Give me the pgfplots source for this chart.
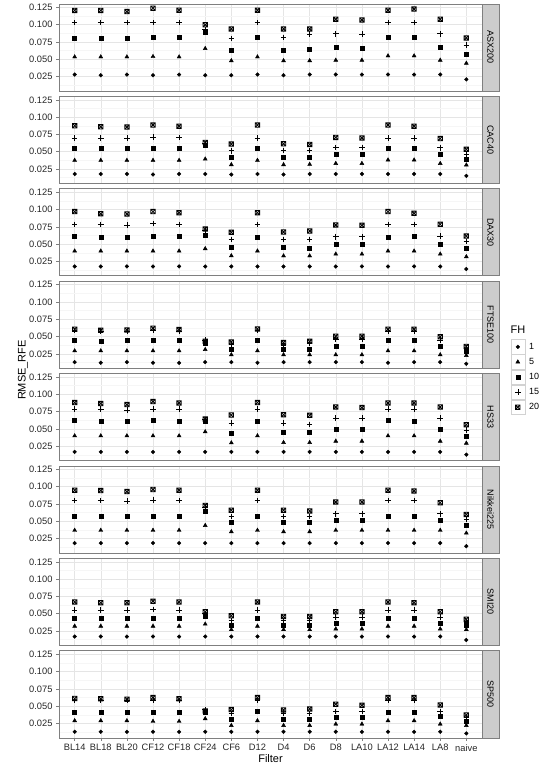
\documentclass[border=0pt]{standalone}
\usepackage{fontspec}
\setmainfont{Liberation Sans}
\usepackage{pgfplots}
\usepackage{pgfplotstable}
\pgfplotsset{compat=1.18}

\definecolor{panelborder}{RGB}{127,127,127}
\definecolor{gridmaj}{RGB}{229,229,229}
\definecolor{gridmin}{RGB}{246,246,246}
\definecolor{stripfill}{RGB}{204,204,204}
\definecolor{tickcol}{RGB}{38,38,38}
\definecolor{legbox}{RGB}{210,210,210}

% square with a cross, like R's pch 7
\pgfdeclareplotmark{boxx}{%
  \pgfpathrectangle{\pgfqpoint{-\pgfplotmarksize}{-\pgfplotmarksize}}{\pgfqpoint{2\pgfplotmarksize}{2\pgfplotmarksize}}%
  \pgfpathmoveto{\pgfqpoint{-\pgfplotmarksize}{-\pgfplotmarksize}}%
  \pgfpathlineto{\pgfqpoint{\pgfplotmarksize}{\pgfplotmarksize}}%
  \pgfpathmoveto{\pgfqpoint{-\pgfplotmarksize}{\pgfplotmarksize}}%
  \pgfpathlineto{\pgfqpoint{\pgfplotmarksize}{-\pgfplotmarksize}}%
  \pgfusepathqstroke}

% columns: filter index, FH = 1 5 10 15 20
\pgfplotstableread{
x f1 f5 f10 f15 f20
1 .028 .0535 .081 .103 .1207
2 .027 .0535 .081 .103 .1207
3 .028 .0535 .081 .103 .119
4 .027 .054 .0825 .103 .124
5 .028 .0535 .0825 .103 .121
6 .027 .0656 .089 .093 .100
7 .027 .048 .063 .080 .094
8 .028 .0535 .0825 .103 .121
9 .027 .048 .063 .0815 .094
10 .028 .048 .0646 .0865 .094
11 .028 .0487 .068 .087 .108
12 .028 .0487 .0665 .0865 .107
13 .028 .055 .0825 .103 .121
14 .028 .055 .0825 .103 .1226
15 .028 .0487 .068 .087 .108
16 .021 .0443 .0574 .0705 .081
}\asx
\pgfplotstableread{
x f1 f5 f10 f15 f20
1 .0178 .0375 .0553 .070 .0875
2 .0178 .0375 .0553 .070 .086
3 .0178 .0375 .0553 .070 .0856
4 .017 .0375 .0553 .071 .0885
5 .0178 .0375 .0553 .0705 .087
6 .0178 .0394 .059 .062 .0635
7 .017 .0313 .0428 .0514 .061
8 .0178 .0375 .0553 .070 .0885
9 .017 .0313 .0428 .052 .0615
10 .0178 .0317 .0428 .052 .0606
11 .0178 .033 .046 .0563 .0707
12 .0178 .033 .046 .0563 .070
13 .0178 .038 .0553 .070 .0885
14 .0178 .038 .0553 .070 .087
15 .0178 .033 .047 .0558 .069
16 .015 .0308 .0399 .046 .0534
}\cac
\pgfplotstableread{
x f1 f5 f10 f15 f20
1 .0177 .040 .062 .0786 .097
2 .0177 .040 .0607 .0786 .094
3 .0177 .040 .0607 .0777 .0936
4 .0177 .040 .062 .0796 .097
5 .0177 .040 .062 .0786 .0955
6 .0177 .0434 .0632 .0704 .072
7 .0177 .0332 .0458 .0564 .067
8 .0177 .040 .0607 .0786 .0955
9 .0177 .033 .0458 .0569 .0675
10 .0177 .033 .0448 .0569 .069
11 .0177 .0356 .0492 .0607 .0777
12 .0177 .0356 .0492 .0607 .0772
13 .0177 .040 .0607 .0786 .097
14 .0177 .040 .062 .0786 .0945
15 .0177 .0356 .0492 .0617 .0786
16 .014 .0318 .0434 .054 .0617
}\dax
\pgfplotstableread{
x f1 f5 f10 f15 f20
1 .013 .0293 .0442 .0587 .0606
2 .012 .0293 .0428 .058 .0591
3 .013 .0293 .0442 .058 .0596
4 .012 .0293 .0442 .059 .062
5 .012 .0293 .0442 .058 .0601
6 .013 .0312 .041 .045 .043
7 .013 .0236 .0312 .0394 .042
8 .012 .0293 .0442 .0587 .061
9 .013 .0236 .0312 .038 .0413
10 .013 .0236 .032 .040 .043
11 .013 .0236 .0356 .0466 .0505
12 .013 .0236 .0356 .0466 .0505
13 .012 .0293 .0442 .057 .0606
14 .013 .0293 .0442 .057 .0606
15 .013 .0236 .0356 .0447 .0495
16 .0106 .0226 .0293 .033 .0356
}\ftse
\pgfplotstableread{
x f1 f5 f10 f15 f20
1 .0168 .040 .0624 .0789 .0881
2 .0168 .040 .061 .0789 .0867
3 .0168 .040 .061 .0774 .0852
4 .0168 .040 .0624 .0789 .0896
5 .0168 .040 .061 .0789 .0876
6 .0168 .0459 .061 .0633 .0643
7 .0168 .0299 .0444 .0585 .0701
8 .0168 .040 .061 .0789 .0881
9 .0168 .0303 .0459 .0585 .0706
10 .0168 .0303 .0459 .0566 .0697
11 .0168 .0323 .0493 .0658 .0818
12 .0168 .0323 .0493 .0658 .0808
13 .0168 .040 .0624 .0789 .0876
14 .0168 .040 .061 .0789 .0876
15 .0168 .0323 .0493 .0658 .0818
16 .0128 .0294 .0391 .0483 .0561
}\hsi
\pgfplotstableread{
x f1 f5 f10 f15 f20
1 .0185 .037 .058 .080 .095
2 .0185 .037 .058 .080 .0945
3 .0185 .037 .058 .079 .093
4 .0185 .037 .058 .081 .096
5 .0185 .037 .058 .080 .095
6 .0185 .044 .064 .071 .073
7 .0185 .035 .049 .057 .066
8 .0185 .037 .058 .080 .095
9 .0185 .035 .049 .057 .066
10 .0185 .035 .049 .057 .065
11 .0185 .037 .052 .061 .078
12 .0185 .037 .052 .061 .078
13 .0185 .037 .058 .080 .095
14 .0185 .037 .058 .080 .094
15 .0185 .037 .052 .061 .077
16 .014 .033 .044 .053 .060
}\nikkei
\pgfplotstableread{
x f1 f5 f10 f15 f20
1 .017 .032 .043 .055 .067
2 .017 .032 .043 .055 .066
3 .017 .032 .043 .055 .066
4 .017 .032 .043 .056 .068
5 .017 .032 .043 .055 .067
6 .017 .035 .047 .050 .053
7 .017 .027 .034 .040 .047
8 .017 .032 .043 .055 .067
9 .017 .027 .033 .040 .046
10 .017 .027 .033 .040 .046
11 .017 .028 .036 .045 .053
12 .017 .028 .036 .045 .053
13 .017 .032 .043 .055 .067
14 .017 .032 .043 .055 .066
15 .017 .028 .036 .045 .053
16 .012 .027 .033 .038 .042
}\smi
\pgfplotstableread{
x f1 f5 f10 f15 f20
1 .0129 .0289 .0405 .058 .061
2 .0129 .0289 .0405 .058 .0605
3 .0129 .0289 .0405 .058 .060
4 .0129 .028 .0405 .0585 .0624
5 .0129 .028 .0405 .058 .0605
6 .0129 .0318 .0405 .045 .043
7 .0129 .022 .0308 .0395 .045
8 .0129 .0289 .042 .058 .0624
9 .0129 .022 .0308 .0395 .0444
10 .0129 .022 .0308 .0395 .046
11 .0129 .024 .0337 .042 .0527
12 .0129 .024 .0337 .042 .0512
13 .0129 .0289 .0405 .058 .0624
14 .0129 .0289 .0405 .058 .0624
15 .0129 .024 .035 .0425 .0517
16 .0105 .022 .028 .0337 .0372
}\spx

\pgfplotsset{
  panel/.style={
    scale only axis, width=423pt, height=87pt, clip=false,
    xmin=0.4, xmax=16.6, ymin=0.0042, ymax=0.1300,
    xtick={1,...,16}, xticklabels={},
    ytick={0.025,0.05,0.075,0.1,0.125},
    minor ytick={0.0125,0.0375,0.0625,0.0875,0.1125},
    grid=both,
    major grid style={gridmaj, line width=0.5pt},
    minor grid style={gridmin, line width=0.4pt},
    axis line style={panelborder, line width=0.6pt},
    tick align=outside, tick pos=left,
    major tick length=3pt, minor tick length=0pt,
    major tick style={panelborder, line width=0.5pt},
    scaled y ticks=false,
    yticklabel style={/pgf/number format/.cd, fixed, fixed zerofill, precision=3, assume math mode=true},
    ticklabel style={font=\fontsize{9.3}{10}\selectfont, text=tickcol},
  },
  nox/.style={xtick style={draw=none}},
  fh1/.style={only marks, mark=*, mark size=1.85pt, black},
  fh5/.style={only marks, mark=triangle*, mark size=2.3pt, black},
  fh10/.style={only marks, mark=square*, mark size=2.0pt, black},
  fh15/.style={only marks, mark=+, mark size=2.8pt, black, mark options={line width=0.6pt}},
  fh20/.style={only marks, mark=boxx, mark size=2.2pt, black, mark options={line width=0.85pt}},
}

\newcommand{\panel}[4]{%
\begin{axis}[panel, at={(59pt,#1)}, anchor=north west, #4]
\addplot[fh1] table[x=x,y=f1]{#2};
\addplot[fh5] table[x=x,y=f5]{#2};
\addplot[fh10] table[x=x,y=f10]{#2};
\addplot[fh15] table[x=x,y=f15]{#2};
\addplot[fh20] table[x=x,y=f20]{#2};
\draw[panelborder, fill=stripfill, line width=0.6pt] (rel axis cs:1,0) rectangle ([xshift=17pt]rel axis cs:1,1);
\node[rotate=-90, font=\fontsize{9}{10}\selectfont, text=black] at ([xshift=8.5pt]rel axis cs:1,0.5) {#3};
\end{axis}}

\begin{document}
\begin{tikzpicture}
\useasboundingbox (0,0) rectangle (546pt,769pt);
\panel{765pt}{\asx}{ASX200}{nox}
\panel{672.6pt}{\cac}{CAC40}{nox}
\panel{580.2pt}{\dax}{DAX30}{nox}
\panel{487.8pt}{\ftse}{FTSE100}{nox,
  legend entries={1,5,10,15,20},
  legend cell align=left,
  legend style={at={(axis description cs:1.0674,0.332)}, anchor=north west, draw=none, fill=none,
    inner sep=0pt, outer sep=0pt, row sep=0pt, column sep=4pt,
    nodes={inner sep=0pt, outer sep=0pt}, font=\fontsize{9}{10}\selectfont},
  legend image code/.code={%
    \draw[legbox, fill=white, line width=0.6pt, solid] (0pt,-7.25pt) rectangle (14pt,7.25pt);
    \draw plot coordinates {(7pt,0pt)};},
  after end axis/.append code={%
    \node[anchor=west, font=\fontsize{11}{12}\selectfont, inner sep=0pt] at (axis description cs:1.067,0.439) {FH};}}
\panel{395.4pt}{\hsi}{HS33}{nox}
\panel{303pt}{\nikkei}{Nikkei225}{nox}
\panel{210.6pt}{\smi}{SMI20}{nox}
\panel{118.2pt}{\spx}{SP500}{xtick style={panelborder},
  xticklabels={BL14,BL18,BL20,CF12,CF18,CF24,CF6,D12,D4,D6,D8,LA10,LA12,LA14,LA8,naive}}
\node[rotate=90, font=\fontsize{11}{12}\selectfont] at (23pt,399pt) {RMSE\_RFE};
\node[font=\fontsize{11}{12}\selectfont] at (270.5pt,10pt) {Filter};
\end{tikzpicture}
\end{document}
